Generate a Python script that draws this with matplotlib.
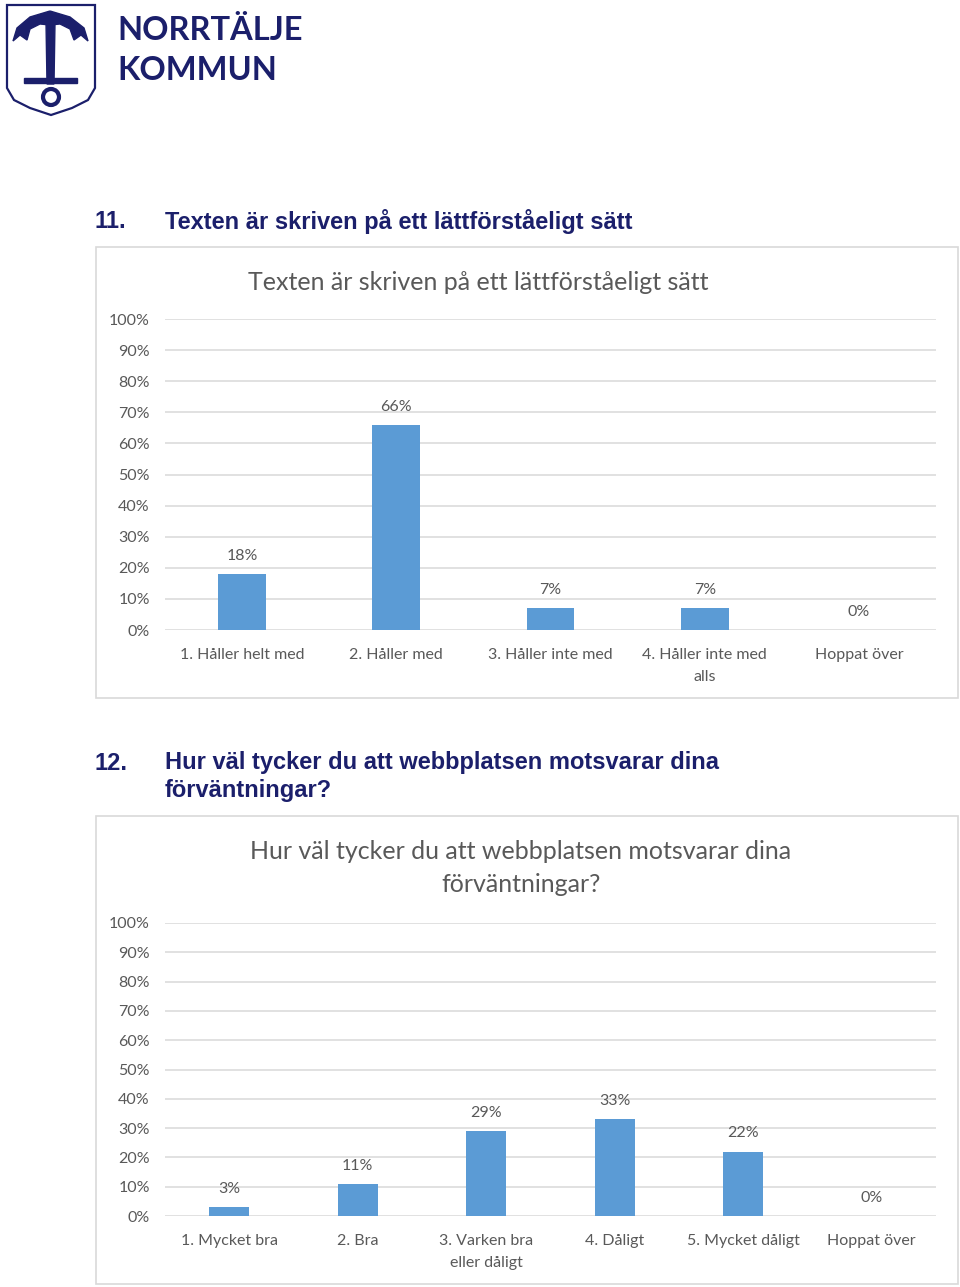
import matplotlib
matplotlib.use("Agg")
import matplotlib.pyplot as plt
from matplotlib.patches import Rectangle, Polygon, Circle
from matplotlib.path import Path
from matplotlib.patches import PathPatch

# ---------------- data ----------------
q11_heading_num = "11."
q11_heading = ["Texten är skriven på ett lättförståeligt sätt"]
q11_title = "Texten är skriven på ett lättförståeligt sätt"
q11_categories = ["1. Håller helt med", "2. Håller med", "3. Håller inte med",
                  "4. Håller inte med\nalls", "Hoppat över"]
q11_values = [18, 66, 7, 7, 0]

q12_heading_num = "12."
q12_heading = ["Hur väl tycker du att webbplatsen motsvarar dina", "förväntningar?"]
q12_title = "Hur väl tycker du att webbplatsen motsvarar dina\nförväntningar?"
q12_categories = ["1. Mycket bra", "2. Bra", "3. Varken bra\neller dåligt",
                  "4. Dåligt", "5. Mycket dåligt", "Hoppat över"]
q12_values = [3, 11, 29, 33, 22, 0]

y_ticks = [0, 10, 20, 30, 40, 50, 60, 70, 80, 90, 100]
y_tick_labels = [f"{t}%" for t in y_ticks]

# ---------------- style ----------------
W, H = 960, 1287
BAR = "#5B9BD5"
GRID = "#D9D9D9"
TXT = "#595959"
NAVY = "#1B1F6B"
CHART_FONT = "Lato"
HEAD_FONT = "Liberation Sans"
HEAD_SIZE = 17

fig = plt.figure(figsize=(W / 100, H / 100), dpi=100)
fig.patch.set_facecolor("white")


def fx(x):
    return x / W


def fy(y):
    return 1 - y / H


def px_axes(x0, y0, x1, y1, **kw):
    return fig.add_axes([fx(x0), fy(y1), fx(x1 - x0), (y1 - y0) / H], **kw)


# ---------------- chart boxes (background) ----------------
for (x0, y0, x1, y1) in [(96, 247, 958, 698), (96, 816, 958, 1284)]:
    fig.patches.append(Rectangle((fx(x0), fy(y1)), fx(x1 - x0), (y1 - y0) / H,
                                 transform=fig.transFigure, facecolor="white",
                                 edgecolor=GRID, lw=1.2, zorder=-5))

# ---------------- logo ----------------
lax = px_axes(0, 0, 320, 120)
lax.set_xlim(0, 320)
lax.set_ylim(120, 0)
lax.axis("off")
shield = Polygon([(7, 5), (95, 5), (95, 88), (88, 100), (72, 108), (51, 115),
                  (30, 108), (14, 100), (7, 88)], closed=True,
                 facecolor="white", edgecolor=NAVY, lw=1.6)
lax.add_patch(shield)
lax.add_patch(Polygon([(46, 22), (55, 22), (54, 84), (47, 84)], closed=True, color=NAVY))
arms = Path([(50, 11), (30, 17), (17, 28), (13, 41), (20, 35), (27, 40),
             (30, 29), (40, 24), (50, 25), (60, 24), (70, 29), (74, 40),
             (81, 35), (88, 41), (84, 28), (70, 17), (50, 11)])
lax.add_patch(PathPatch(arms, color=NAVY))
lax.add_patch(Rectangle((24, 78), 53, 5, color=NAVY))
lax.add_patch(Circle((51, 97), 8, facecolor="white", edgecolor=NAVY, lw=3))
lax.text(117, 31, "NORRTÄLJE", fontsize=23.5, color=NAVY, family="Lato",
         fontweight="bold", va="center", ha="left")
lax.text(117, 70, "KOMMUN", fontsize=23.5, color=NAVY, family="Lato",
         fontweight="bold", va="center", ha="left")

# ---------------- headings ----------------
def heading(num, lines, y0):
    fig.text(fx(95), fy(y0), num, fontsize=HEAD_SIZE, fontweight="bold",
             color=NAVY, family=HEAD_FONT, va="center", ha="left")
    for i, ln in enumerate(lines):
        fig.text(fx(165), fy(y0 + 28 * i), ln, fontsize=HEAD_SIZE, fontweight="bold",
                 color=NAVY, family=HEAD_FONT, va="center", ha="left")


heading(q11_heading_num, q11_heading, 221)
heading(q12_heading_num, q12_heading, 763)


def bar_chart(ax, cats, vals, width):
    ax.set_facecolor("none")
    x = list(range(len(cats)))
    ax.bar(x, [v / 100 for v in vals], width=width, color=BAR, zorder=3)
    ax.set_xlim(-0.5, len(cats) - 0.5)
    ax.set_ylim(0, 1)
    ax.set_yticks([t / 100 for t in y_ticks])
    ax.set_yticklabels(y_tick_labels)
    ax.set_xticks(x)
    ax.set_xticklabels(cats)
    for s in ax.spines.values():
        s.set_visible(False)
    ax.grid(axis="y", color=GRID, lw=1.1, zorder=0)
    ax.set_axisbelow(True)
    ax.tick_params(axis="both", length=0, colors=TXT, labelsize=11.5)
    ax.tick_params(axis="y", pad=11)
    ax.tick_params(axis="x", pad=13)
    for lab in ax.get_yticklabels():
        lab.set_family(CHART_FONT)
        lab.set_color(TXT)
    for lab in ax.get_xticklabels():
        lab.set_family(CHART_FONT)
        lab.set_color(TXT)
        lab.set_linespacing(1.7)
    for xi, v in zip(x, vals):
        ax.annotate(f"{v}%", (xi, v / 100), xytext=(0, 13), textcoords="offset points",
                    ha="center", va="center", fontsize=11.5, color=TXT,
                    family=CHART_FONT)


ax1 = px_axes(165, 319, 936, 630)
bar_chart(ax1, q11_categories, q11_values, 0.31)
fig.text(fx(478), fy(282), q11_title, fontsize=18, color=TXT, family=CHART_FONT,
         ha="center", va="center")

ax2 = px_axes(165, 923, 936, 1216)
bar_chart(ax2, q12_categories, q12_values, 0.31)
fig.text(fx(521), fy(868), q12_title, fontsize=18, color=TXT, family=CHART_FONT,
         ha="center", va="center", linespacing=1.5)

fig.savefig("out.png", dpi=100, facecolor="white")
